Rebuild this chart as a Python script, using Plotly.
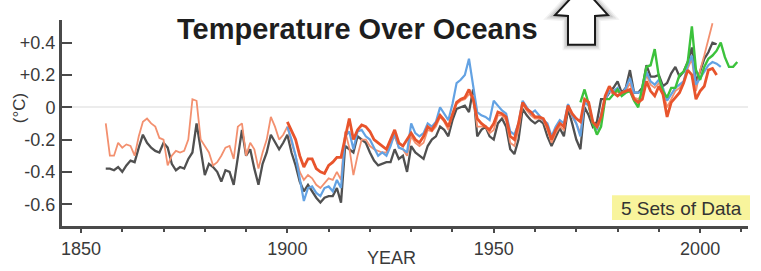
import plotly.graph_objects as go

# ---------------- data (temperature anomaly, deg C) ----------------
gray_start = 1856
gray_vals = [
    -0.38, -0.38, -0.39, -0.37, -0.40, -0.36, -0.33, -0.34, -0.25, -0.17,  # 1856-1865
    -0.22, -0.25, -0.27, -0.28, -0.22, -0.25, -0.35, -0.39, -0.37, -0.38,  # 1866-1875
    -0.32, -0.28, -0.10, -0.25, -0.42, -0.35, -0.37, -0.40, -0.46, -0.39,  # 1876-1885
    -0.40, -0.48, -0.30, -0.14, -0.30, -0.26, -0.38, -0.48, -0.35, -0.28,  # 1886-1895
    -0.17, -0.22, -0.26, -0.22, -0.17, -0.28, -0.36, -0.46, -0.52, -0.48,  # 1896-1905
    -0.52, -0.56, -0.59, -0.56, -0.55, -0.55, -0.50, -0.59, -0.24, -0.26,  # 1906-1915
    -0.28, -0.18, -0.20, -0.22, -0.28, -0.33, -0.36, -0.35, -0.34, -0.34,  # 1916-1925
    -0.26, -0.32, -0.30, -0.40, -0.24, -0.28, -0.30, -0.32, -0.24, -0.20,  # 1926-1935
    -0.18, -0.12, -0.14, -0.18, -0.08, -0.01, 0.00, 0.01, -0.03, 0.11,     # 1936-1945
    -0.18, -0.14, -0.12, -0.18, -0.20, -0.10, -0.07, -0.12, -0.26, -0.29,  # 1946-1955
    -0.20, -0.01, -0.05, -0.08, -0.10, -0.08, -0.10, -0.18, -0.24, -0.18,  # 1956-1965
    -0.13, -0.18, -0.01, -0.10, -0.20, -0.26, 0.00, -0.05, -0.12, -0.09,   # 1966-1975
    0.05, 0.05, 0.09, 0.12, 0.16, 0.09, 0.12, 0.23, 0.09, 0.09,            # 1976-1985
    0.12, 0.26, 0.19, 0.19, 0.20, 0.13, 0.15, 0.21, 0.25, 0.19,            # 1986-1995
    0.22, 0.28, 0.37, 0.16, 0.22, 0.30, 0.34, 0.40, 0.39,                  # 1996-2004
]

salmon_start = 1856
salmon_vals = [
    -0.10, -0.30, -0.30, -0.22, -0.25, -0.23, -0.24, -0.30, -0.18, -0.09,  # 1856-1865
    -0.07, -0.10, -0.12, -0.19, -0.20, -0.36, -0.30, -0.27, -0.28, -0.27,  # 1866-1875
    -0.20, 0.05, 0.04, -0.20, -0.24, -0.28, -0.36, -0.34, -0.30, -0.25,    # 1876-1885
    -0.24, -0.32, -0.12, -0.10, -0.30, -0.22, -0.26, -0.38, -0.28, -0.20,  # 1886-1895
    -0.06, -0.12, -0.20, -0.17, -0.12, -0.22, -0.30, -0.40, -0.45, -0.42,  # 1896-1905
    -0.44, -0.48, -0.50, -0.47, -0.44, -0.45, -0.40, -0.45, -0.15, -0.25,  # 1906-1915
    -0.42, -0.30, -0.20, -0.20, -0.24, -0.26, -0.27, -0.28, -0.28, -0.22,  # 1916-1925
    -0.18, -0.25, -0.26, -0.30, -0.18, -0.22, -0.24, -0.22, -0.14, -0.15,  # 1926-1935
    -0.12, -0.06, -0.09, -0.14, -0.04, 0.02, 0.04, 0.05, 0.08, 0.07,       # 1936-1945
    -0.12, -0.12, -0.12, -0.16, -0.14, -0.05, -0.05, -0.08, -0.22, -0.24,  # 1946-1955
    -0.14, 0.02, -0.02, -0.05, -0.07, -0.07, -0.08, -0.14, -0.22, -0.16,   # 1956-1965
    -0.12, -0.14, 0.00, -0.06, -0.10, -0.16, 0.03, 0.01, -0.10, -0.14,     # 1966-1975
    -0.08, 0.05, 0.10, 0.08, 0.10, 0.08, 0.10, 0.15, 0.06, 0.05,           # 1976-1985
    0.08, 0.20, 0.14, 0.12, 0.15, 0.10, 0.00, 0.05, 0.10, 0.12,            # 1986-1995
    0.16, 0.24, 0.30, 0.10, 0.23, 0.32, 0.42, 0.52,                        # 1996-2003
]

blue_start = 1900
blue_vals = [
    -0.12, -0.20, -0.30, -0.45, -0.58, -0.50, -0.49, -0.53, -0.55, -0.50,  # 1900-1909
    -0.49, -0.52, -0.45, -0.50, -0.18, -0.15, -0.26, -0.15, -0.14, -0.18,  # 1910-1919
    -0.20, -0.25, -0.30, -0.28, -0.30, -0.24, -0.16, -0.25, -0.26, -0.28,  # 1920-1929
    -0.10, -0.16, -0.18, -0.16, -0.10, -0.12, -0.09, 0.00, -0.04, -0.08,   # 1930-1939
    0.02, 0.15, 0.17, 0.20, 0.30, 0.12, -0.03, -0.05, -0.06, -0.08,        # 1940-1949
    0.04, 0.01, -0.02, -0.04, -0.15, -0.17, -0.10, 0.04, 0.00, -0.04,      # 1950-1959
    -0.02, -0.05, -0.08, -0.10, -0.18, -0.12, -0.08, -0.10, 0.02, -0.05,   # 1960-1969
    -0.10, -0.18, 0.03, 0.01, -0.10, -0.14, -0.05, 0.05, 0.10, 0.10,       # 1970-1979
    0.12, 0.08, 0.12, 0.18, 0.09, 0.09, 0.10, 0.22, 0.16, 0.14,            # 1980-1989
    0.17, 0.12, 0.04, 0.08, 0.12, 0.14, 0.16, 0.26, 0.32, 0.14,            # 1990-1999
    0.18, 0.22, 0.26, 0.28, 0.27, 0.25,                                    # 2000-2005
]

red_start = 1900
red_vals = [
    -0.09, -0.14, -0.20, -0.30, -0.37, -0.32, -0.32, -0.38, -0.40, -0.41,  # 1900-1909
    -0.36, -0.34, -0.31, -0.31, -0.20, -0.07, -0.20, -0.14, -0.11, -0.12,  # 1910-1919
    -0.15, -0.20, -0.22, -0.24, -0.26, -0.20, -0.14, -0.22, -0.24, -0.20,  # 1920-1929
    -0.16, -0.20, -0.22, -0.18, -0.12, -0.14, -0.10, -0.05, -0.08, -0.12,  # 1930-1939
    -0.04, 0.03, 0.05, 0.06, 0.11, 0.05, -0.07, -0.10, -0.12, -0.14,       # 1940-1949
    -0.10, -0.03, -0.04, -0.06, -0.18, -0.20, -0.10, 0.03, -0.01, -0.03,   # 1950-1959
    -0.06, -0.06, -0.07, -0.12, -0.20, -0.14, -0.10, -0.12, 0.01, -0.04,   # 1960-1969
    -0.07, -0.09, 0.05, 0.03, -0.09, -0.12, -0.06, 0.07, 0.13, 0.09,       # 1970-1979
    0.07, 0.09, 0.10, 0.11, 0.05, 0.03, 0.05, 0.16, 0.10, 0.07,            # 1980-1989
    0.13, 0.08, -0.06, 0.03, 0.06, 0.09, 0.15, 0.23, 0.20, 0.05,           # 1990-1999
    0.10, 0.13, 0.23, 0.24, 0.20,                                          # 2000-2004
]

green_start = 1971
green_vals = [
    0.03, 0.11, 0.02, -0.10, -0.17, -0.12, 0.05, 0.05, 0.08,               # 1971-1979
    0.11, 0.07, 0.09, 0.10, 0.04, 0.00, 0.12, 0.25, 0.26, 0.36,            # 1980-1989
    0.19, 0.10, 0.06, 0.12, 0.12, 0.20, 0.22, 0.28, 0.50, 0.23,            # 1990-1999
    0.17, 0.25, 0.30, 0.32, 0.35, 0.40, 0.31, 0.25, 0.25, 0.28,            # 2000-2009
]

y_tick_vals = [0.4, 0.2, 0.0, -0.2, -0.4, -0.6]
y_tick_text = ["+0.4", "+0.2", "0", "-0.2", "-0.4", "-0.6"]
x_tick_vals = [1850, 1900, 1950, 2000]
x_tick_text = ["1850", "1900", "1950", "2000"]

title_text = "Temperature Over Oceans"
x_title = "YEAR"
y_title = "(°C)"
badge_text = "5 Sets of Data"

# ---------------- layout helpers (pixel -> paper) ----------------
W, H = 761, 271
L, R, T, B = 62, 13, 20, 43
PW, PH = W - L - R, H - T - B


def px(x):
    return (x - L) / PW


def py(y):
    return (H - B - y) / PH


def years(start, vals):
    return list(range(start, start + len(vals)))


fig = go.Figure()
series = [
    (gray_start, gray_vals, "#505050", 2.3),
    (salmon_start, salmon_vals, "#f3906f", 1.8),
    (blue_start, blue_vals, "#63a2e3", 2.2),
    (green_start, green_vals, "#3cc23c", 2.4),
    (red_start, red_vals, "#e8542c", 2.8),
]
for start, vals, col, w in series:
    fig.add_trace(go.Scatter(
        x=years(start, vals), y=vals, mode="lines",
        line=dict(color=col, width=w), showlegend=False, hoverinfo="skip",
    ))

axis_col = "#4a4a4a"
font_fam = "Liberation Sans, Arial, sans-serif"

fig.update_layout(
    width=W, height=H,
    margin=dict(l=L, r=R, t=T, b=B, pad=0),
    paper_bgcolor="white", plot_bgcolor="white",
    font=dict(family=font_fam, color="#3a3a3a"),
    xaxis=dict(
        range=[1845.4, 2011.6], showgrid=False, zeroline=False,
        showline=True, linecolor=axis_col, linewidth=3,
        tickmode="array", tickvals=x_tick_vals, ticktext=x_tick_text,
        ticks="outside", ticklen=4, tickwidth=2, tickcolor=axis_col,
        tickfont=dict(size=18, color="#3a3a3a"),
        minor=dict(dtick=10, tick0=1850, ticks="outside", ticklen=3,
                   tickwidth=2, tickcolor=axis_col),
    ),
    yaxis=dict(
        range=[-0.735, 0.54], showgrid=False,
        zeroline=True, zerolinecolor="#ececec", zerolinewidth=2,
        showline=True, linecolor=axis_col, linewidth=3,
        tickmode="array", tickvals=y_tick_vals, ticktext=y_tick_text,
        ticks="inside", ticklen=10, tickwidth=2, tickcolor=axis_col,
        tickfont=dict(size=18, color="#3a3a3a"),
    ),
)

# arrow icon (top right of title)
arrow = [(568, 45), (568, 16), (555, 15), (582, -14), (608, 15), (595, 16), (595, 45)]
path = "M " + " L ".join(f"{px(x):.4f},{py(y):.4f}" for x, y in arrow) + " Z"
for wdt, op in [(11, 0.05), (8, 0.07), (5, 0.10)]:
    fig.add_shape(type="path", path=path, xref="paper", yref="paper",
                  line=dict(color=f"rgba(0,0,0,{op})", width=wdt), layer="above")
fig.add_shape(type="path", path=path, xref="paper", yref="paper",
              fillcolor="white", line=dict(color="#1a1a1a", width=2), layer="above")

# yellow badge
fig.add_shape(type="rect", xref="paper", yref="paper",
              x0=px(612), x1=px(750), y0=py(222), y1=py(197),
              fillcolor="#f8f49c", line=dict(width=0), layer="above")

fig.add_annotation(text=badge_text, xref="paper", yref="paper",
                   x=px(681), y=py(210), showarrow=False,
                   font=dict(size=19, color="#333333"), xanchor="center", yanchor="middle")
fig.add_annotation(text=f"<b>{title_text}</b>", xref="paper", yref="paper",
                   x=px(357), y=py(29), showarrow=False,
                   font=dict(size=29, color="#1e1e1e"), xanchor="center", yanchor="middle")
fig.add_annotation(text=x_title, xref="paper", yref="paper",
                   x=px(391), y=py(260), showarrow=False,
                   font=dict(size=18, color="#3a3a3a"), xanchor="center", yanchor="middle")
fig.add_annotation(text=y_title, xref="paper", yref="paper",
                   x=px(19), y=py(109), showarrow=False, textangle=-90,
                   font=dict(size=17, color="#3a3a3a"), xanchor="center", yanchor="middle")

fig.write_html("out.html", config={"displayModeBar": False},
               post_script="document.body.style.margin='0';")
